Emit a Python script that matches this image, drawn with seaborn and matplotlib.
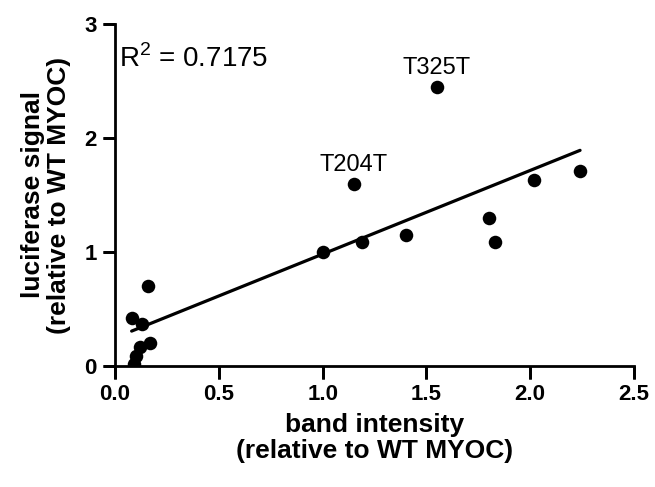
import numpy as np
import pandas as pd
import matplotlib
matplotlib.use("Agg")
import matplotlib.pyplot as plt
import seaborn as sns

# values
band = [0.09, 0.10, 0.12, 0.17, 0.08, 0.13, 0.16,
        1.00, 1.19, 1.40, 1.15, 1.55, 1.80, 1.83, 2.02, 2.24]
luc = [0.02, 0.09, 0.17, 0.20, 0.42, 0.37, 0.70,
       1.00, 1.09, 1.15, 1.60, 2.45, 1.30, 1.09, 1.63, 1.71]
labels = {"T204T": (1.15, 1.60), "T325T": (1.55, 2.45)}
r2_text = "R$^2$ = 0.7175"
xticks = [0.0, 0.5, 1.0, 1.5, 2.0, 2.5]
xticklabels = ["0.0", "0.5", "1.0", "1.5", "2.0", "2.5"]
yticks = [0, 1, 2, 3]

df = pd.DataFrame({"band": band, "luc": luc})

sns.set_style("ticks")
plt.rcParams["font.family"] = ["Liberation Sans", "DejaVu Sans"]
plt.rcParams["mathtext.fontset"] = "custom"
plt.rcParams["mathtext.rm"] = "Liberation Sans"
plt.rcParams["text.color"] = "black"
plt.rcParams["axes.labelcolor"] = "black"

fig = plt.figure(figsize=(6.55, 4.87), dpi=100)
ax = fig.add_axes([0.1756, 0.2485, 0.968 - 0.1756, 0.9507 - 0.2485])

sns.regplot(data=df, x="band", y="luc", ax=ax, ci=None, truncate=True,
            scatter_kws={"s": 95, "color": "black", "alpha": 1,
                         "linewidths": 0, "zorder": 3},
            line_kws={"color": "black", "lw": 2.3, "zorder": 2})

for name, (xv, yv) in labels.items():
    ax.text(xv, yv + 0.11, name, ha="center", va="baseline", fontsize=17,
            color="black")

ax.text(0.02, 2.62, r2_text, fontsize=20, ha="left", va="baseline",
        color="black")

ax.set_xticks(xticks)
ax.set_xticklabels(xticklabels)
ax.set_yticks(yticks)
ax.tick_params(axis="both", direction="out", length=9, width=2,
               color="black", labelcolor="black", labelsize=16, pad=4)
for lab in ax.get_xticklabels() + ax.get_yticklabels():
    lab.set_fontweight("bold")
for side in ["left", "bottom"]:
    ax.spines[side].set_linewidth(2)
    ax.spines[side].set_color("black")
sns.despine(ax=ax)

# tick marks drawn again as markers on the axis lines, so they always show
ax.plot(xticks, [0] * len(xticks), transform=ax.get_xaxis_transform(),
        ls="none", marker=3, ms=9, mew=2, color="black", clip_on=False,
        zorder=6)
ax.plot([0] * len(yticks), yticks, transform=ax.get_yaxis_transform(),
        ls="none", marker=0, ms=9, mew=2, color="black", clip_on=False,
        zorder=6)

ax.set_xlim(0, 2.5)
ax.set_ylim(0, 3)

ax.set_xlabel("band intensity\n(relative to WT MYOC)", fontsize=19,
              fontweight="bold", labelpad=6, linespacing=1.1)
ax.set_ylabel("luciferase signal\n(relative to WT MYOC)", fontsize=19,
              fontweight="bold", labelpad=10, linespacing=1.1)

fig.savefig("out.png", dpi=100)
